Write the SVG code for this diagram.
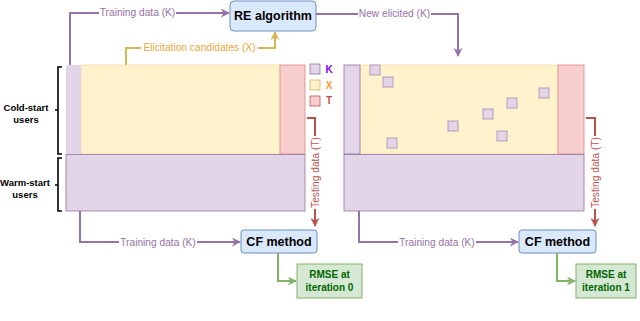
<svg xmlns="http://www.w3.org/2000/svg" width="640" height="321" viewBox="0 0 640 321">
<style>
.lbl{font-family:"Liberation Sans",Arial,sans-serif;font-size:10.2px;text-anchor:middle;dominant-baseline:central}
.bold{font-family:"Liberation Sans",Arial,sans-serif;font-weight:bold;text-anchor:middle;dominant-baseline:central}
.pur{stroke:#9673a6;stroke-width:2;fill:none}
.red{stroke:#b85450;stroke-width:2;fill:none}
.grn{stroke:#82b366;stroke-width:2;fill:none}
.gld{stroke:#d6b656;stroke-width:2;fill:none}
.k{fill:#e1d5e7;stroke:#9673a6;stroke-width:0.8}
.x{fill:#fff2cc;stroke:#f2dca0;stroke-width:0.8}
.t{fill:#f8cecc;stroke:#d98a86;stroke-width:0.8}
.sq{fill:#e1d5e7;stroke:#a58bb5;stroke-width:0.8}
.blue{fill:#dae8fc;stroke:#6c8ebf;stroke-width:1}
.green{fill:#d5e8d4;stroke:#82b366;stroke-width:1}
.bracket{stroke:#000;stroke-width:1.6;fill:none}
</style>
<defs>
<marker id="ap" viewBox="0 0 10 10" refX="9" refY="5" markerWidth="4.5" markerHeight="4.5" orient="auto" markerUnits="strokeWidth"><path d="M0,0 L10,5 L0,10 L3,5 Z" fill="#9673a6"/></marker>
<marker id="ar" viewBox="0 0 10 10" refX="9" refY="5" markerWidth="4.5" markerHeight="4.5" orient="auto" markerUnits="strokeWidth"><path d="M0,0 L10,5 L0,10 L3,5 Z" fill="#b85450"/></marker>
<marker id="ag" viewBox="0 0 10 10" refX="9" refY="5" markerWidth="4.5" markerHeight="4.5" orient="auto" markerUnits="strokeWidth"><path d="M0,0 L10,5 L0,10 L3,5 Z" fill="#82b366"/></marker>
<marker id="ay" viewBox="0 0 10 10" refX="9" refY="5" markerWidth="4.5" markerHeight="4.5" orient="auto" markerUnits="strokeWidth"><path d="M0,0 L10,5 L0,10 L3,5 Z" fill="#d6b656"/></marker>
</defs>
<rect width="640" height="321" fill="#fff"/>

<g id="left-matrix">
<rect class="x" x="81" y="65" width="199" height="89"/>
<rect class="t" x="280" y="65" width="25" height="89"/>
<rect class="k" x="66" y="65" width="15" height="89" style="stroke:none"/>
<rect class="k" x="66" y="154.5" width="239" height="56.5"/>
</g>

<g id="right-matrix">
<rect class="x" x="360" y="65" width="198" height="89"/>
<rect class="t" x="558" y="65" width="26" height="89"/>
<rect class="k" x="344" y="65" width="16" height="89"/>
<rect class="k" x="344" y="154.5" width="240" height="56.5"/>
<rect class="sq" x="370" y="65" width="10" height="10"/>
<rect class="sq" x="383" y="77" width="10" height="10"/>
<rect class="sq" x="539" y="88" width="10" height="10"/>
<rect class="sq" x="507" y="98" width="10" height="10"/>
<rect class="sq" x="483" y="109" width="10" height="10"/>
<rect class="sq" x="448" y="121" width="10" height="10"/>
<rect class="sq" x="497" y="131" width="10" height="10"/>
<rect class="sq" x="387" y="138" width="10" height="10"/>
</g>

<g id="legend">
<rect class="k" x="310" y="64" width="10" height="10"/>
<rect class="x" x="310" y="80" width="10" height="10" style="stroke:#d6b656"/>
<rect class="t" x="310" y="96" width="10" height="10" style="stroke:#b85450"/>
<text class="bold" x="329" y="69.5" font-size="10" fill="#7f00ff">K</text>
<text class="bold" x="329" y="85" font-size="10" fill="#ff9933">X</text>
<text class="bold" x="329" y="100.5" font-size="10" fill="#b85450">T</text>
</g>

<g id="cold-start-label">
<path class="bracket" d="M62,67 H58 V154 H62 M58,110 H55"/>
<text class="bold" x="26" y="107" font-size="9.5" fill="#000">Cold-start</text>
<text class="bold" x="26" y="119" font-size="9.5" fill="#000">users</text>
</g>
<g id="warm-start-label">
<path class="bracket" d="M62,158 H58 V211 H62 M58,185 H55"/>
<text class="bold" x="25" y="182" font-size="9.5" fill="#000">Warm-start</text>
<text class="bold" x="25" y="194" font-size="9.5" fill="#000">users</text>
</g>

<g id="re-algorithm">
<rect class="blue" x="230" y="1" width="86" height="30" rx="4"/>
<text class="bold" x="273" y="16" font-size="12.5" fill="#000">RE algorithm</text>
</g>

<g id="cf-method-0">
<rect class="blue" x="241" y="230" width="76" height="23" rx="3"/>
<text class="bold" x="279" y="241.5" font-size="12.5" fill="#000">CF method</text>
</g>
<g id="cf-method-1">
<rect class="blue" x="519" y="230" width="77" height="23" rx="3"/>
<text class="bold" x="557.5" y="241.5" font-size="12.5" fill="#000">CF method</text>
</g>

<g id="rmse-0">
<rect class="green" x="297" y="264" width="65" height="34"/>
<text class="bold" x="329.5" y="274.5" font-size="10" fill="#006600">RMSE at</text>
<text class="bold" x="329.5" y="287.5" font-size="10" fill="#006600">iteration 0</text>
</g>
<g id="rmse-1">
<rect class="green" x="576" y="264" width="60" height="34"/>
<text class="bold" x="606" y="274.5" font-size="10" fill="#006600">RMSE at</text>
<text class="bold" x="606" y="287.5" font-size="10" fill="#006600">iteration 1</text>
</g>

<g id="connectors">
<path class="pur" d="M70,65 V13 H229" marker-end="url(#ap)"/>
<rect x="99" y="6" width="77" height="13" fill="#fff"/>
<text class="lbl" x="137.5" y="12.5" fill="#9673a6">Training data (K)</text>

<path class="gld" d="M126,65 V48 H275 V32" marker-end="url(#ay)"/>
<rect x="141" y="41" width="117" height="13" fill="#fff"/>
<text class="lbl" x="199.5" y="47.5" fill="#e8a83c">Elicitation candidates (X)</text>

<path class="pur" d="M316,14 H458 V56" marker-end="url(#ap)"/>
<rect x="358" y="7" width="73" height="13" fill="#fff"/>
<text class="lbl" x="394.5" y="13.5" fill="#9673a6">New elicited (K)</text>

<path class="red" d="M307,118 H315 V226" marker-end="url(#ar)"/>
<rect x="308.5" y="136" width="13" height="73" fill="#fff"/>
<text class="lbl" transform="translate(315,172.5) rotate(-90)" x="0" y="0" fill="#b85450">Testing data (T)</text>

<path class="red" d="M586,118 H595 V226" marker-end="url(#ar)"/>
<rect x="588.5" y="136" width="13" height="73" fill="#fff"/>
<text class="lbl" transform="translate(595,172.5) rotate(-90)" x="0" y="0" fill="#b85450">Testing data (T)</text>

<path class="pur" d="M80,211 V242 H240" marker-end="url(#ap)"/>
<rect x="119" y="235.5" width="78" height="13" fill="#fff"/>
<text class="lbl" x="158" y="242" fill="#9673a6">Training data (K)</text>

<path class="pur" d="M359,211 V242 H518" marker-end="url(#ap)"/>
<rect x="398" y="235.5" width="78" height="13" fill="#fff"/>
<text class="lbl" x="437" y="242" fill="#9673a6">Training data (K)</text>

<path class="grn" d="M278,253 V281 H296" marker-end="url(#ag)"/>
<path class="grn" d="M557,253 V281 H575" marker-end="url(#ag)"/>
</g>

<text x="177" y="333" font-family="Liberation Serif,'Times New Roman',serif" font-size="16" fill="#666">Fig. 1: Illustration of RE procedure</text>
</svg>
